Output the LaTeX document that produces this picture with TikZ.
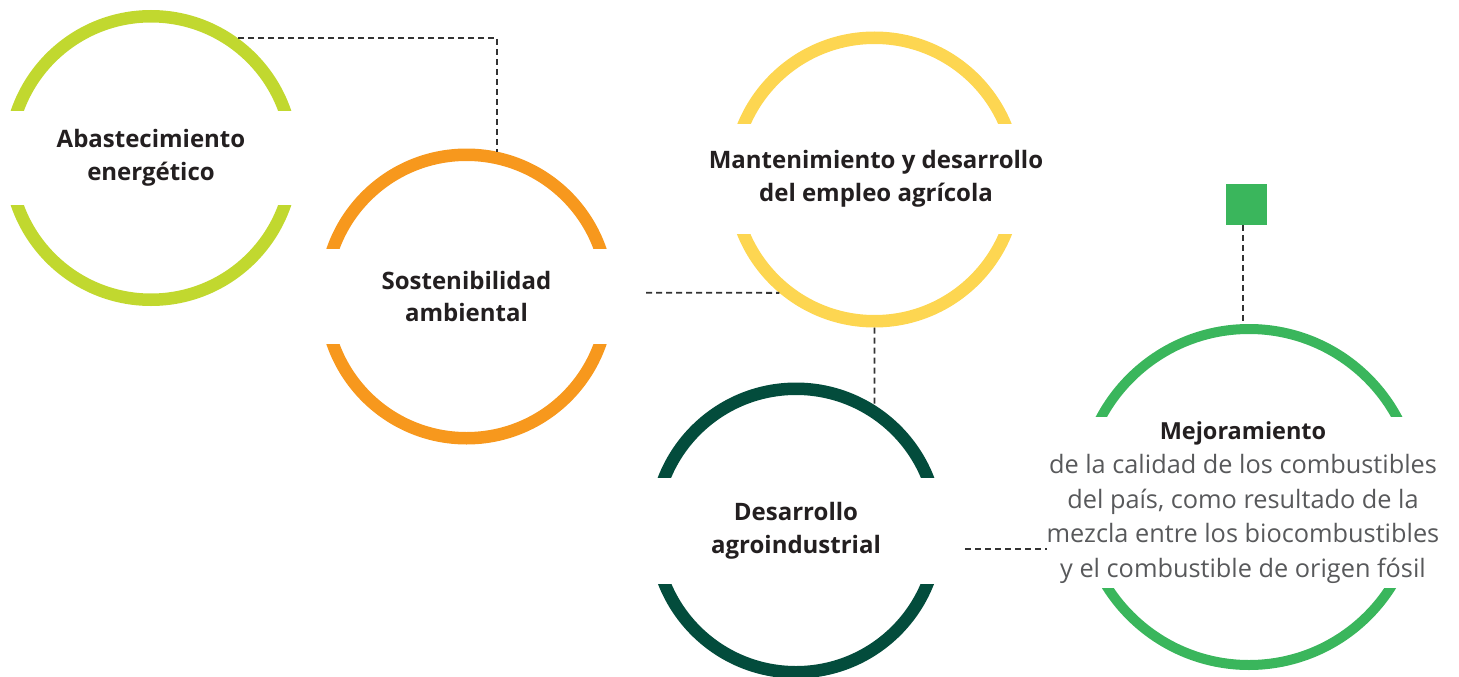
\documentclass[tikz,border=0pt]{standalone}
\usepackage{fontspec}
\setmainfont{Open Sans}
\definecolor{lima}{HTML}{C1D82F}
\definecolor{naranja}{HTML}{F7981D}
\definecolor{amarillo}{HTML}{FDD651}
\definecolor{pino}{HTML}{034C3C}
\definecolor{verde}{HTML}{3AB65C}
\definecolor{tinta}{HTML}{231F20}
\definecolor{gris}{HTML}{58595B}
\definecolor{linea}{HTML}{333333}
\begin{document}
\begin{tikzpicture}[x=1pt, y=-1pt,
      ring/.style={circle, draw, line width=12.5pt, minimum size=283.5pt, inner sep=0pt},
      lbl/.style={fill=white, align=center, inner sep=0pt, text=tinta, minimum width=310pt, font=\bfseries\fontsize{24}{32.6}\selectfont},
      link/.style={draw=linea, line width=1.8pt, dash pattern=on 6pt off 4pt}]
    \useasboundingbox (0,0) rectangle (1459,677);
    \node[ring, draw=lima] (abas) at (151,158) {};
    \node[ring, draw=naranja] (sost) at (466.5,296.5) {};
    \node[ring, draw=amarillo] (empl) at (874.5,179.5) {};
    \node[ring, draw=pino] (agro) at (796,530.5) {};
    \node[ring, draw=verde, line width=10pt, minimum size=336pt] (mejo) at (1249,497) {};
    \node[lbl, minimum height=94.3pt] (abas-t) at (151,158) {Abastecimiento\\energético};
    \node[lbl, minimum height=94.7pt] (sost-t) at (466.5,296.5) {Sostenibilidad\\ambiental};
    \node[lbl, minimum height=110pt] (empl-t) at (876,179) {Mantenimiento y desarrollo\\del empleo agrícola};
    \node[lbl, minimum height=106.3pt] (agro-t) at (796,531) {Desarrollo\\agroindustrial};
    \node[lbl, minimum width=360pt, minimum height=171.3pt, text=gris, font=\fontsize{25.3}{34.4}\selectfont] (mejo-t) at (1243,502.4)
      {\textbf{\textcolor{tinta}{\fontsize{23.5}{34.4}\selectfont Mejoramiento}}\\de la calidad de los combustibles\\del país, como resultado de la\\mezcla entre los biocombustibles\\y el combustible de origen fósil};
    \node[fill=verde, minimum size=41pt, inner sep=0pt] (cuad) at (1246.5,204.5) {};
    \draw[link] (abas.54) -| (sost.78);
    \coordinate (p1) at (646,292.7);
    \draw[link] (p1) -- (empl.230);
    \draw[link] (empl.south) -- (agro.58);
    \coordinate (p2) at (965,549);
    \draw[link] (p2) -- (p2 -| mejo-t.west);
    \draw[link] ([xshift=-3.5pt]cuad.south) -- ([xshift=-3.5pt]cuad.south |- mejo.north);
  \end{tikzpicture}
\end{document}
